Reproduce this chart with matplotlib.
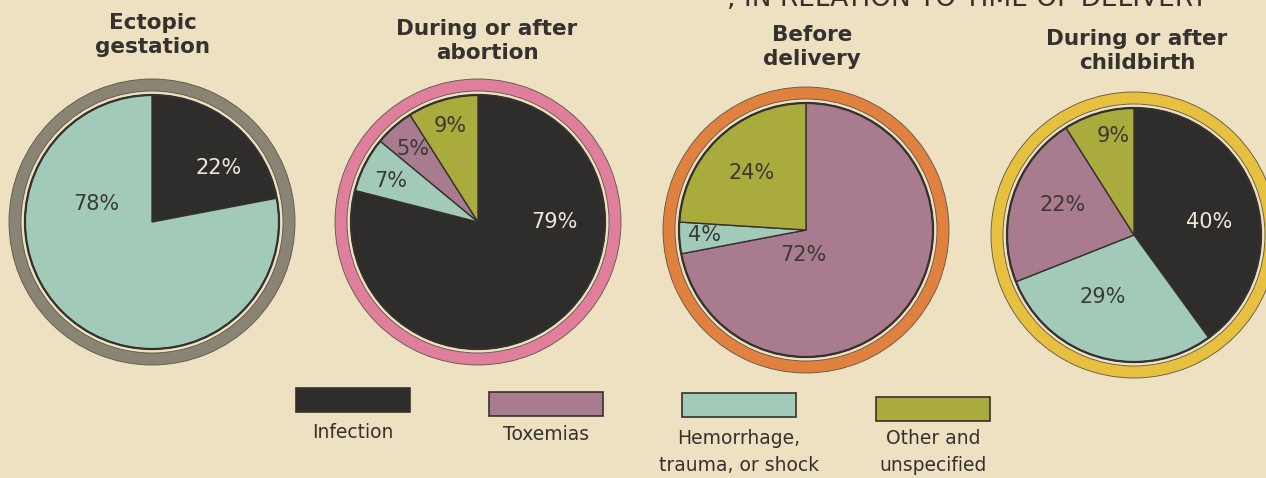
import matplotlib.pyplot as plt
from matplotlib.patches import Wedge, Circle, Rectangle
import numpy as np

W, H = 1266, 478

categories = ['Infection', 'Toxemias', 'Hemorrhage,\ntrauma, or shock',
              'Other and\nunspecified']
cat_colors = {'Infection': '#2f2d2b',
              'Toxemias': '#a97b8e',
              'Hemorrhage,\ntrauma, or shock': '#a2cab8',
              'Other and\nunspecified': '#a9ab3c'}

titles = ['Ectopic\ngestation', 'During or after\nabortion',
          'Before\ndelivery', 'During or after\nchildbirth']

# slices of each pie, clockwise from 12 o'clock
ectopic_cats = ['Infection', 'Hemorrhage,\ntrauma, or shock']
ectopic_pct = [22, 78]
abortion_cats = ['Infection', 'Hemorrhage,\ntrauma, or shock', 'Toxemias',
                 'Other and\nunspecified']
abortion_pct = [79, 7, 5, 9]
before_cats = ['Toxemias', 'Hemorrhage,\ntrauma, or shock',
               'Other and\nunspecified']
before_pct = [72, 4, 24]
childbirth_cats = ['Infection', 'Hemorrhage,\ntrauma, or shock', 'Toxemias',
                   'Other and\nunspecified']
childbirth_pct = [40, 29, 22, 9]

ring_colors = ['#8a8474', '#df7f9c', '#e0813f', '#e7c03f']

pies = [(ectopic_cats, ectopic_pct), (abortion_cats, abortion_pct),
        (before_cats, before_pct), (childbirth_cats, childbirth_pct)]

# layout in pixels (y measured from the top)
centers = [(152, 222), (478, 222), (806, 230), (1134, 235)]
title_y = [35, 41, 47, 51]
title_x = [153, 487, 812, 1137]
label_polar = [[(39, 0.68), (162, 0.46)],
               [(0, 0.60), (155, 0.76), (132, 0.77), (106, 0.79)],
               [(-95, 0.20), (183, 0.80), (134, 0.62)],
               [(10, 0.60), (243, 0.55), (157, 0.61), (102, 0.80)]]
R = 127
BG = '#eee1c2'
INK = '#34312e'


def py(y):
    return H - y


fig = plt.figure(figsize=(W / 100, H / 100), dpi=100)
fig.patch.set_facecolor(BG)
ax = fig.add_axes([0, 0, 1, 1])
ax.set_facecolor(BG)

font = ['DejaVu Sans']

for i, (cats, pct) in enumerate(pies):
    cx, cy = centers[i][0], py(centers[i][1])
    ax.add_patch(Wedge((cx, cy), 143, 0, 360, width=12,
                       facecolor=ring_colors[i], edgecolor='#5a5448', lw=0.6))
    ax.pie(pct, colors=[cat_colors[c] for c in cats], startangle=90,
           counterclock=False, center=(cx, cy), radius=R,
           wedgeprops=dict(edgecolor=INK, linewidth=1.0))
    ax.add_patch(Circle((cx, cy), R, fill=False, edgecolor=INK, lw=1.6))
    for c, p, (ang, rf) in zip(cats, pct, label_polar[i]):
        a = np.radians(ang)
        col = '#eee8d6' if c == 'Infection' else '#3b3936'
        ax.text(cx + rf * R * np.cos(a), cy + rf * R * np.sin(a), f'{p}%',
                ha='center', va='center', fontsize=15, color=col,
                family=font)
    ax.text(title_x[i], py(title_y[i]), titles[i], ha='center', va='center',
            fontsize=15.5, fontweight='semibold', color=INK, family=font,
            linespacing=1.2)

# part of the heading running off the top edge
ax.text(1208, py(6), ', IN RELATION TO TIME OF DELIVERY', ha='right',
        va='baseline', fontsize=19, color=INK, family=font)

# legend
box_x = [296, 489, 682, 876]
box_y = [388, 392, 393, 397]
lab_y = [432, 434, 452, 452]
for c, bx, by, ly in zip(categories, box_x, box_y, lab_y):
    ax.add_patch(Rectangle((bx, py(by + 24)), 114, 24,
                           facecolor=cat_colors[c], edgecolor=INK, lw=1.2))
    ax.text(bx + 57, py(ly), c, ha='center', va='center', fontsize=13.5,
            color=INK, family=font, linespacing=1.5)

ax.set_xlim(0, W)
ax.set_ylim(0, H)
ax.set_aspect('auto')
ax.axis('off')

plt.savefig('out.png', dpi=100, facecolor=BG)
